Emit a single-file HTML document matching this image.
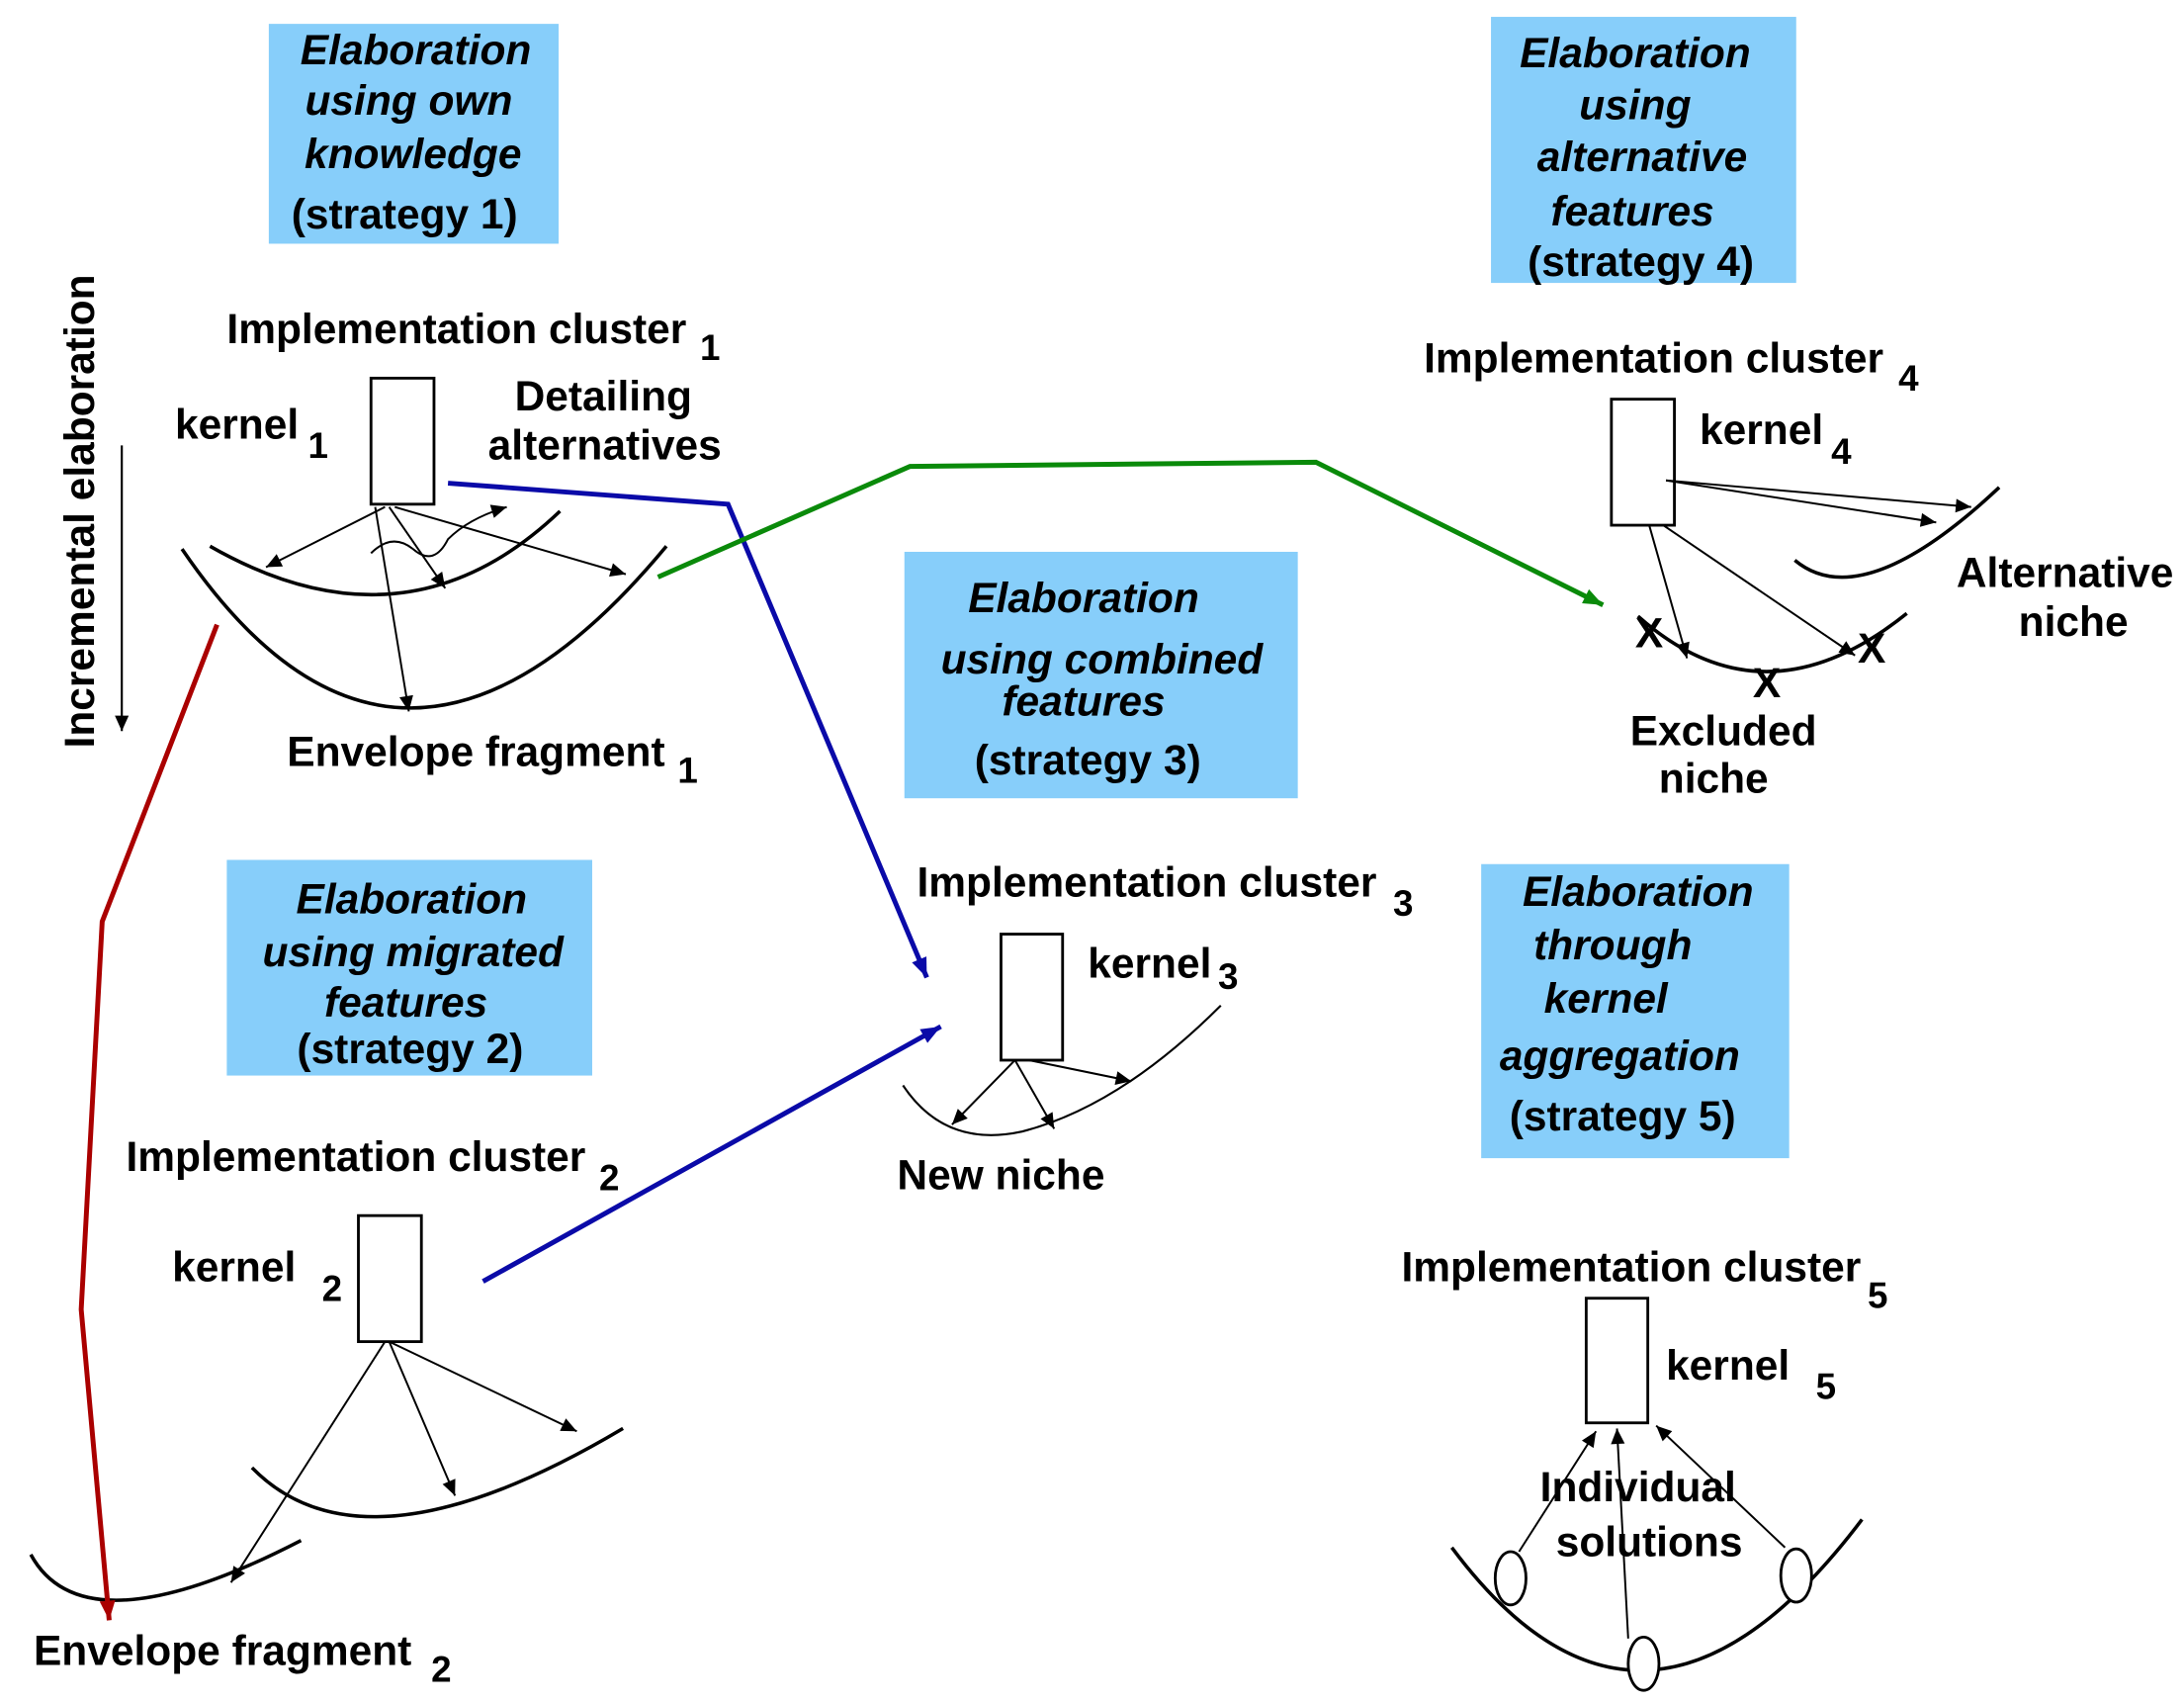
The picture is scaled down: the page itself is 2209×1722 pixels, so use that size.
<!DOCTYPE html>
<html><head><meta charset="utf-8"><style>
html,body{margin:0;padding:0;background:#fff;}
svg{display:block;}
text{font-family:"Liberation Sans",sans-serif;font-weight:bold;font-size:30px;fill:#000;}
.it{font-style:italic;}
.sub{font-size:26px;}
</style></head><body>
<svg width="2209" height="1722" viewBox="0 0 1560 1216" xmlns="http://www.w3.org/2000/svg">
<defs>
<marker id="a" viewBox="0 0 10 10" refX="10" refY="5" markerWidth="14" markerHeight="11" markerUnits="userSpaceOnUse" orient="auto"><path d="M0,0.5 L10,5 L0,9.5 z" fill="#000"/></marker>
<marker id="ab" viewBox="0 0 10 10" refX="10" refY="5" markerWidth="16" markerHeight="14" markerUnits="userSpaceOnUse" orient="auto"><path d="M0,1 L10,5 L0,9 z" fill="#0a0aa8"/></marker>
<marker id="ag" viewBox="0 0 10 10" refX="10" refY="5" markerWidth="16" markerHeight="14" markerUnits="userSpaceOnUse" orient="auto"><path d="M0,1 L10,5 L0,9 z" fill="#0a8a0a"/></marker>
<marker id="ar" viewBox="0 0 10 10" refX="10" refY="5" markerWidth="16" markerHeight="14" markerUnits="userSpaceOnUse" orient="auto"><path d="M0,1 L10,5 L0,9 z" fill="#a00"/></marker>
</defs>

<g fill="#87cefa">
<rect x="192" y="17" width="207" height="157"/>
<rect x="1065" y="12" width="218" height="190"/>
<rect x="646" y="394" width="281" height="176"/>
<rect x="162" y="614" width="261" height="154"/>
<rect x="1058" y="617" width="220" height="210"/>
</g>
<g text-anchor="middle">
<text class="it" x="297" y="46">Elaboration</text>
<text class="it" x="292" y="82">using own</text>
<text class="it" x="295" y="120">knowledge</text>
<text x="289" y="163">(strategy 1)</text>

<text class="it" x="1168" y="48">Elaboration</text>
<text class="it" x="1168" y="85">using</text>
<text class="it" x="1173" y="122">alternative</text>
<text class="it" x="1166" y="161">features</text>
<text x="1172" y="197">(strategy 4)</text>

<text class="it" x="774" y="437">Elaboration</text>
<text class="it" x="787" y="481">using combined</text>
<text class="it" x="774" y="511">features</text>
<text x="777" y="553">(strategy 3)</text>

<text class="it" x="294" y="652">Elaboration</text>
<text class="it" x="295" y="690">using migrated</text>
<text class="it" x="290" y="726">features</text>
<text x="293" y="759">(strategy 2)</text>

<text class="it" x="1170" y="647">Elaboration</text>
<text class="it" x="1152" y="685">through</text>
<text class="it" x="1147" y="723">kernel</text>
<text class="it" x="1157" y="764">aggregation</text>
<text x="1159" y="807">(strategy 5)</text>
</g>

<text x="0" y="0" text-anchor="middle" transform="translate(67,365) rotate(-90)">Incremental elaboration</text>
<line x1="87" y1="318" x2="87" y2="522" stroke="#000" stroke-width="1.5" marker-end="url(#a)"/>

<g fill="none" stroke="#000" stroke-width="2.5">
<path d="M150,390 Q290,470 400,365"/>
<path d="M130,392 Q285,620 476,390"/>
<path d="M1282,400 Q1330,440 1428,348"/>
<path d="M1170,440 Q1260,520 1362,438"/>
<path d="M645,775 Q675,820 730,808 Q800,790 872,718" stroke-width="1.5"/>
<path d="M180,1048 Q260,1130 445,1020"/>
<path d="M22,1110 Q60,1180 215,1100"/>
<path d="M1037,1105 Q1175,1290 1330,1085"/>
</g>

<g fill="#fff" stroke="#000" stroke-width="2">
<rect x="265" y="270" width="45" height="90"/>
<rect x="1151" y="285" width="45" height="90"/>
<rect x="715" y="667" width="44" height="90"/>
<rect x="256" y="868" width="45" height="90"/>
<rect x="1133" y="927" width="44" height="89"/>
<ellipse cx="1079" cy="1127" rx="11" ry="19"/>
<ellipse cx="1174" cy="1188" rx="11" ry="19"/>
<ellipse cx="1283" cy="1125" rx="11" ry="19"/>
</g>

<g stroke="#000" stroke-width="1.4" fill="none" marker-end="url(#a)">
<line x1="275" y1="362" x2="190" y2="405"/>
<line x1="278" y1="362" x2="318" y2="420"/>
<line x1="282" y1="362" x2="447" y2="410"/>
<line x1="268" y1="362" x2="292" y2="508"/>
<path d="M265,395 Q280,380 295,392 Q310,405 320,385 Q335,370 362,362"/>
<line x1="1190" y1="343" x2="1408" y2="362"/>
<line x1="1190" y1="343" x2="1383" y2="373"/>
<line x1="1188" y1="375" x2="1325" y2="468"/>
<line x1="1178" y1="375" x2="1205" y2="470"/>
<line x1="725" y1="757" x2="680" y2="803"/>
<line x1="725" y1="757" x2="753" y2="806"/>
<line x1="735" y1="757" x2="808" y2="772"/>
<line x1="278" y1="958" x2="412" y2="1022"/>
<line x1="278" y1="958" x2="325" y2="1068"/>
<line x1="275" y1="958" x2="165" y2="1130"/>
<line x1="1085" y1="1108" x2="1140" y2="1022"/>
<line x1="1163" y1="1170" x2="1155" y2="1020"/>
<line x1="1275" y1="1105" x2="1183" y2="1018"/>
</g>

<g text-anchor="middle">
<text x="1178" y="462">X</text>
<text x="1262" y="498">X</text>
<text x="1337" y="473">X</text>
</g>

<polyline points="320,345 520,360 662,698" fill="none" stroke="#0a0aa8" stroke-width="3.5" marker-end="url(#ab)"/>
<polyline points="345,915 672,733" fill="none" stroke="#0a0aa8" stroke-width="3.5" marker-end="url(#ab)"/>
<polyline points="470,412 650,333 940,330 1145,432" fill="none" stroke="#0a8a0a" stroke-width="3.5" marker-end="url(#ag)"/>
<polyline points="155,446 73,658 58,935 78,1157" fill="none" stroke="#a00" stroke-width="3.5" marker-end="url(#ar)"/>

<text x="162" y="245">Implementation cluster</text><text class="sub" x="500" y="257">1</text>
<text x="125" y="313">kernel</text><text class="sub" x="220" y="327">1</text>
<text x="431" y="293" text-anchor="middle">Detailing</text>
<text x="432" y="328" text-anchor="middle">alternatives</text>
<text x="205" y="547">Envelope fragment</text><text class="sub" x="484" y="559">1</text>

<text x="1017" y="266">Implementation cluster</text><text class="sub" x="1356" y="279">4</text>
<text x="1214" y="317">kernel</text><text class="sub" x="1308" y="331">4</text>
<text x="1475" y="419" text-anchor="middle">Alternative</text>
<text x="1481" y="454" text-anchor="middle">niche</text>
<text x="1231" y="532" text-anchor="middle">Excluded</text>
<text x="1224" y="566" text-anchor="middle">niche</text>

<text x="655" y="640">Implementation cluster</text><text class="sub" x="995" y="654">3</text>
<text x="777" y="698">kernel</text><text class="sub" x="870" y="706">3</text>
<text x="715" y="849" text-anchor="middle">New niche</text>

<text x="90" y="836">Implementation cluster</text><text class="sub" x="428" y="850">2</text>
<text x="123" y="915">kernel</text><text class="sub" x="230" y="929">2</text>
<text x="24" y="1189">Envelope fragment</text><text class="sub" x="308" y="1201">2</text>

<text x="1001" y="915">Implementation cluster</text><text class="sub" x="1334" y="934">5</text>
<text x="1190" y="985">kernel</text><text class="sub" x="1297" y="999">5</text>
<text x="1170" y="1072" text-anchor="middle">Individual</text>
<text x="1178" y="1111" text-anchor="middle">solutions</text>
</svg>
</body></html>
